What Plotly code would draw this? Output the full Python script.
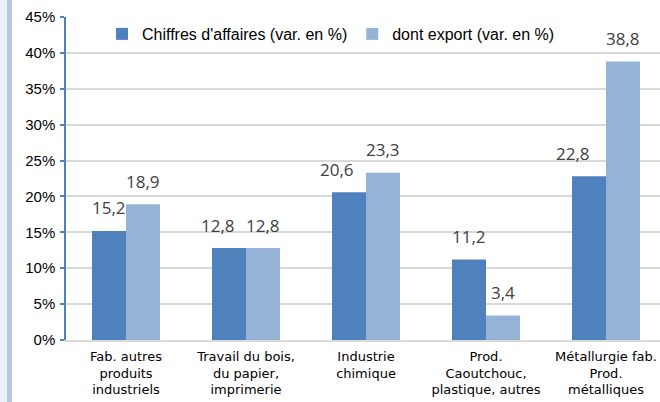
import plotly.graph_objects as go

categories = [
    "Fab. autres<br>produits<br>industriels",
    "Travail du bois,<br>du papier,<br>imprimerie",
    "Industrie<br>chimique",
    "Prod.<br>Caoutchouc,<br>plastique, autres",
    "Métallurgie fab.<br>Prod.<br>métalliques",
]
series_names = ["Chiffres d'affaires (var. en %)", "dont export (var. en %)"]
ca_values = [15.2, 12.8, 20.6, 11.2, 22.8]
export_values = [18.9, 12.8, 23.3, 3.4, 38.8]
y_ticks = [0, 5, 10, 15, 20, 25, 30, 35, 40, 45]
y_ticklabels = [f"{v}%" for v in y_ticks]

# label nudges (pixels), as in the original where some labels were moved left
ca_label_xshift = [0, -11, -12, 0, -16]
export_label_xshift = [0, 0, 0, 0, 0]

colors = ["#4F81BD", "#95B3D7"]
W, H = 660, 402
ML, MR, MT, MB = 66, 0, 17, 62
BARGAP = 0.433
cat_px = 120.0
plot_w = W - ML - MR
x_range = [-0.5, -0.5 + plot_w / cat_px]

xs = list(range(len(categories)))
fig = go.Figure()
for name, vals, col in zip(series_names, [ca_values, export_values], colors):
    fig.add_trace(go.Bar(x=xs, y=vals, name=name, marker=dict(color=col, line=dict(width=0))))

bar_w = (1 - BARGAP) / 2
annotations = []
for k, (vals, shifts) in enumerate([(ca_values, ca_label_xshift), (export_values, export_label_xshift)]):
    off = (k - 0.5) * bar_w
    for i, v in enumerate(vals):
        annotations.append(dict(
            x=i + off, y=v, xref="x", yref="y",
            text=f"{v:.1f}".replace(".", ","),
            showarrow=False, yanchor="middle", yshift=23, xshift=shifts[i],
            font=dict(family="Open Sans", size=17, color="#404040"),
        ))

fx = lambda px: (px - ML) / plot_w
shapes = [
    dict(type="rect", xref="paper", yref="paper", x0=fx(0), x1=fx(7), y0=-1, y1=2,
         fillcolor="#EEF1F8", line=dict(width=0), layer="below"),
    dict(type="rect", xref="paper", yref="paper", x0=fx(7), x1=fx(12), y0=-1, y1=2,
         fillcolor="#B4C7E7", line=dict(width=0), layer="below"),
]

fig.update_layout(
    width=W, height=H,
    margin=dict(l=ML, r=MR, t=MT, b=MB, pad=0, autoexpand=False),
    paper_bgcolor="white", plot_bgcolor="white",
    barmode="group", bargap=BARGAP, bargroupgap=0,
    font=dict(family="Liberation Sans, Arial", size=13, color="#000000"),
    legend=dict(
        orientation="h", x=fx(102), y=1 - (34 - MT) / (H - MT - MB), xanchor="left", yanchor="middle",
        bgcolor="rgba(255,255,255,0)", font=dict(size=16), itemwidth=30, traceorder="normal",
    ),
    xaxis=dict(
        range=x_range, tickmode="array", tickvals=xs, ticktext=categories,
        showline=True, linecolor="#D9D9D9", linewidth=2, ticks="", showgrid=False,
        zeroline=False, ticklabelstandoff=3,
        tickfont=dict(family="DejaVu Sans", size=13), automargin=False,
    ),
    yaxis=dict(
        range=[0, 45], tickmode="array", tickvals=y_ticks, ticktext=y_ticklabels,
        showline=True, linecolor="#4F81BD", linewidth=1.5,
        ticks="outside", ticklen=4, tickcolor="#4F81BD", tickwidth=1.5,
        showgrid=True, gridcolor="#D9D9D9", gridwidth=1.5, zeroline=False,
        tickfont=dict(size=15), ticklabelstandoff=2, automargin=False,
    ),
    annotations=annotations, shapes=shapes, showlegend=True,
)

fig.write_html("out.html", config={"displayModeBar": False},
               post_script="document.body.style.margin='0px';")
